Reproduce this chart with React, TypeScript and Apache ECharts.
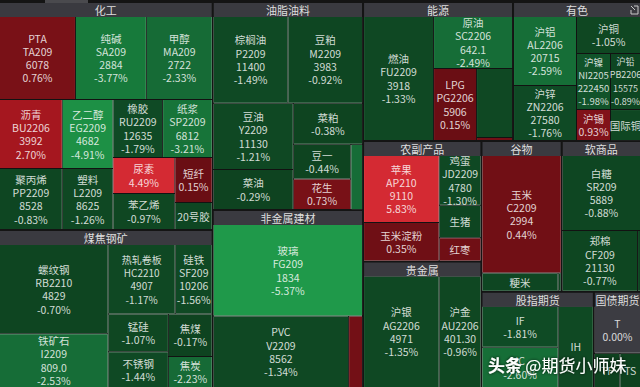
import React, { useEffect, useRef } from 'react';
import * as echarts from 'echarts';

// [name, code, price, change %, weight, label lines (4 full, 2 name+pct, 1 name, 0 none)]
type Row = [string, string, string, number, number, number];

const chemicals: Row[] = [
  ['PTA', 'TA209', '6078', 0.76, 6225, 4],
  ['纯碱', 'SA209', '2884', -3.77, 5810, 4],
  ['甲醇', 'MA209', '2722', -2.33, 5395, 4],
  ['沥青', 'BU2206', '3992', 2.7, 4278, 4],
  ['聚丙烯', 'PP2209', '8528', -0.83, 3782, 4],
  ['乙二醇', 'EG2209', '4682', -4.91, 3450, 4],
  ['塑料', 'L2209', '8625', -1.26, 3050, 4],
  ['橡胶', 'RU2209', '12635', -1.79, 2842, 4],
  ['纸浆', 'SP2209', '6812', -3.21, 2842, 4],
  ['尿素', '', '', 4.49, 2196, 2],
  ['苯乙烯', '', '', -0.97, 2196, 2],
  ['短纤', '', '', 0.15, 1665, 2],
  ['20号胶', '', '', -0.9, 999, 1],
];

const coalSteel: Row[] = [
  ['螺纹钢', 'RB2210', '4829', -0.7, 9600, 4],
  ['铁矿石', 'I2209', '809.0', -2.53, 5800, 4],
  ['热轧卷板', 'HC2210', '4907', -1.17, 4620, 4],
  ['硅铁', 'SF209', '10206', -1.56, 2550, 4],
  ['锰硅', '', '', -1.07, 2260, 2],
  ['不锈钢', '', '', -1.44, 2135, 2],
  ['焦煤', '', '', -0.17, 1850, 2],
  ['焦炭', '', '', -2.23, 1345, 2],
];

const oils: Row[] = [
  ['棕榈油', 'P2209', '11400', -1.49, 6375, 4],
  ['豆粕', 'M2209', '3983', -0.92, 6375, 4],
  ['豆油', 'Y2209', '11130', -1.21, 5214, 4],
  ['菜油', '', '', -0.29, 3160, 2],
  ['菜粕', '', '', -0.38, 2800, 2],
  ['豆一', '', '', -0.44, 1960, 2],
  ['花生', '', '', 0.73, 1736, 2],
  ['豆二', '', '', -2.4, 750, 0],
];

const building: Row[] = [
  ['玻璃', 'FG209', '1834', -5.37, 13650, 4],
  ['PVC', 'V2209', '8562', -1.34, 9650, 4],
  ['纤维板', '', '', 0.5, 994, 0],
];

const energy: Row[] = [
  ['燃油', 'FU2209', '3918', -1.33, 8680, 4],
  ['原油', 'SC2206', '642.1', -2.49, 4108, 4],
  ['LPG', 'PG2206', '5906', 0.15, 3096, 4],
  ['低硫燃料油', '', '', -1.2, 2484, 0],
  ['动力煤', '', '', 0.5, 108, 0],
];

const metals: Row[] = [
  ['沪铝', 'AL2206', '20715', -2.59, 4347, 4],
  ['沪锌', 'ZN2206', '27580', -1.76, 3465, 4],
  ['沪铜', '', '', -1.05, 2368, 2],
  ['沪镍', 'NI2205', '222450', -1.98, 1904, 4],
  ['沪铅', 'PB2206', '15575', -0.89, 1680, 4],
  ['沪锡', '', '', 0.93, 1054, 2],
  ['国际铜', '', '', -1.0, 930, 1],
];

const agri: Row[] = [
  ['苹果', 'AP210', '9110', 5.83, 5016, 4],
  ['玉米淀粉', '', '', 0.35, 2888, 2],
  ['鸡蛋', 'JD2209', '4780', -1.3, 2058, 4],
  ['生猪', '', '', -0.6, 1344, 1],
  ['红枣', '', '', 0.4, 966, 1],
];

const precious: Row[] = [
  ['沪银', 'AG2206', '4971', -1.35, 8436, 4],
  ['沪金', 'AU2206', '401.30', -0.96, 4662, 4],
];

const grains: Row[] = [
  ['玉米', 'C2209', '2994', 0.44, 9164, 4],
  ['粳米', '', '', -0.8, 1368, 1],
  ['强麦', '', '', -0.5, 56, 0],
];

const softs: Row[] = [
  ['白糖', 'SR209', '5889', -0.88, 5846, 4],
  ['郑棉', 'CF209', '21130', -0.77, 4560, 4],
  ['棉纱', '', '', -0.5, 180, 0],
];

const indexFut: Row[] = [
  ['IF', '', '', -1.81, 3116, 2],
  ['IC', '', '', -2.6, 3040, 2],
  ['IH', '', '', -1.4, 2835, 1],
];

const bonds: Row[] = [
  ['T', '', '', 0.0, 2209, 2],
  ['TF', '', '', -0.05, 884, 1],
  ['TS', '', '', -0.02, 714, 1],
];

const sectorNames = ['化工', '煤焦钢矿', '油脂油料', '非金属建材', '能源', '有色', '农副产品', '贵金属', '谷物', '软商品', '股指期货', '国债期货'];
const sectorWeights = [48400, 33496, 31050, 26550, 20700, 17664, 14160, 14868, 12000, 11850, 10752, 4512];
const sectorRows = [chemicals, coalSteel, oils, building, energy, metals, agri, precious, grains, softs, indexFut, bonds];

// narrow cells whose labels are drawn in a smaller font
const compactFont: Record<string, number> = { '沪铅': 9, '沪镍': 9.5, '热轧卷板': 10 };

const GREEN_STOPS: [number, string][] = [
  [0, '#0e421f'], [1.9, '#0f4b25'], [2.2, '#166a36'], [3.8, '#177a3b'], [5.4, '#1f9a4a'], [9, '#1f9a4a'],
];
const RED_STOPS: [number, string][] = [
  [0, '#660d13'], [0.8, '#7a1117'], [1, '#85131a'], [2.7, '#a5171f'], [4.5, '#d42a33'], [9, '#d42a33'],
];

function hex(c: string) {
  return [1, 3, 5].map((i) => parseInt(c.slice(i, i + 2), 16));
}
function interp(stops: [number, string][], v: number) {
  for (let i = 1; i < stops.length; i++) {
    if (v <= stops[i][0]) {
      const [a, ca] = stops[i - 1];
      const [b, cb] = stops[i];
      const t = (v - a) / (b - a);
      const x = hex(ca), y = hex(cb);
      const m = x.map((q, k) => Math.round(q + (y[k] - q) * t));
      return `rgb(${m[0]},${m[1]},${m[2]})`;
    }
  }
  return stops[stops.length - 1][1];
}
function colorOf(chg: number) {
  if (chg === 0) return '#3c3c42';
  return chg > 0 ? interp(RED_STOPS, chg) : interp(GREEN_STOPS, -chg);
}

const FONT = '"Noto Sans CJK SC", "Microsoft YaHei", sans-serif';

export default function App() {
  const ref = useRef<HTMLDivElement>(null);
  useEffect(() => {
    if (!ref.current) return;
    const chart = echarts.init(ref.current, undefined, { renderer: 'svg' });
    const data = sectorNames.map((sn, si) => ({
      name: sn,
      value: sectorWeights[si],
      children: sectorRows[si].map((r) => {
        const item: any = {
          name: r[0],
          value: r[4],
          code: r[1],
          price: r[2],
          chg: r[3],
          lines: r[5],
          itemStyle: { color: colorOf(r[3]) },
        };
        if (compactFont[r[0]]) item.label = { fontSize: compactFont[r[0]], lineHeight: 13.3 };
        return item;
      }),
    }));
    chart.setOption({
      animation: false,
      backgroundColor: '#141414',
      graphic: [
        { type: 'rect', shape: { x: 45, y: 0, width: 43, height: 3 }, style: { fill: '#4a4a4e' } },
        {
          type: 'polyline',
          shape: { points: [[634, 6], [638, 6], [638, 14], [631, 14], [631, 10]] },
          style: { stroke: '#c8c8c8', fill: 'none', lineWidth: 1 },
          z: 100,
        },
        {
          type: 'line',
          shape: { x1: 631, y1: 6, x2: 635, y2: 10 },
          style: { stroke: '#c8c8c8', lineWidth: 1 },
          z: 100,
        },
        {
          type: 'text',
          left: 488,
          top: 356,
          z: 100,
          style: {
            text: '{a|头条} {b|@期货小师妹}',
            rich: {
              a: { fontSize: 17, fontWeight: 'bold', fill: '#ffffff', fontFamily: FONT },
              b: { fontSize: 17, fill: '#ffffff', fontFamily: FONT },
            },
            textShadowColor: 'rgba(0,0,0,0.9)',
            textShadowBlur: 3,
          },
        },
      ],
      series: [
        {
          type: 'treemap',
          left: 0,
          top: 3,
          width: 640,
          height: 384,
          roam: false,
          nodeClick: false,
          sort: false,
          squareRatio: 1,
          visibleMin: 1,
          breadcrumb: { show: false },
          data,
          label: {
            show: true,
            position: 'inside',
            align: 'center',
            verticalAlign: 'middle',
            overflow: 'none',
            padding: [-30, 0, -30, 0],
            color: 'rgba(255,255,255,0.82)',
            fontSize: 10.5,
            lineHeight: 13.3,
            fontFamily: FONT,
            formatter: (p: any) => {
              const d = p.data || {};
              const pct = `${d.chg.toFixed(2)}%`;
              if (d.lines === 4) return [d.name, d.code, d.price, pct].join('\n');
              if (d.lines === 2) return `${d.name}\n${pct}`;
              if (d.lines === 1) return d.name;
              return '';
            },
          },
          levels: [
            {
              itemStyle: { borderWidth: 0, gapWidth: 2, borderColor: '#141414' },
              upperLabel: { show: false },
            },
            {
              itemStyle: { borderWidth: 0, gapWidth: 1, borderColor: '#121212' },
              upperLabel: {
                show: true,
                height: 14,
                position: 'inside',
                align: 'center',
                verticalAlign: 'middle',
                padding: 0,
                backgroundColor: '#3a3a40',
                color: '#dedede',
                fontSize: 11,
                lineHeight: 14,
                fontFamily: FONT,
                formatter: '{b}',
              },
            },
            {
              itemStyle: { borderWidth: 0, gapWidth: 0 },
            },
          ],
        },
      ],
    });
    return () => chart.dispose();
  }, []);
  return <div ref={ref} style={{ position: 'fixed', left: 0, top: 0, width: 640, height: 387 }} />;
}
